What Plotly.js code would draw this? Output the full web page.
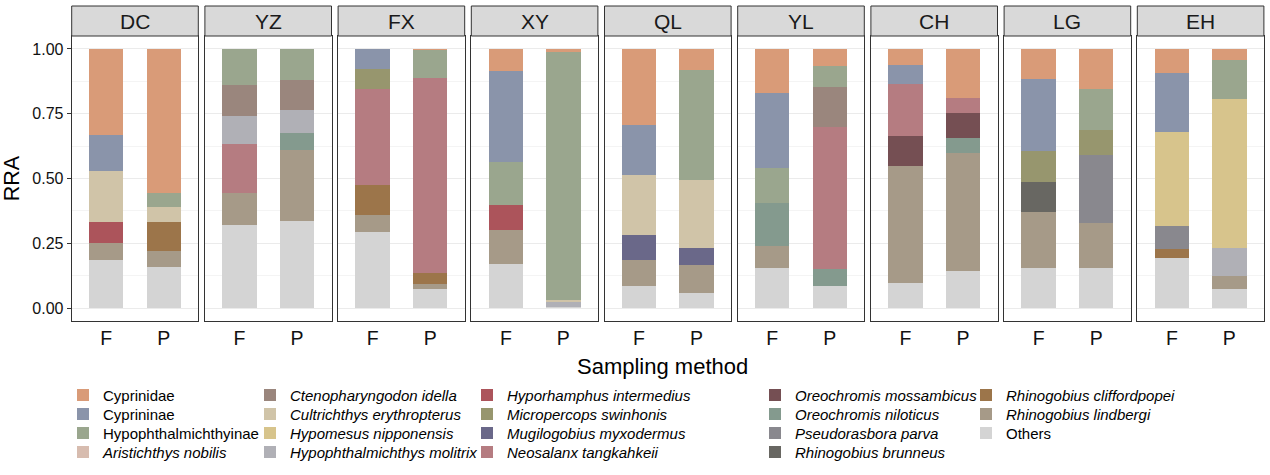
<!DOCTYPE html>
<html><head><meta charset="utf-8">
<script src="https://cdn.plot.ly/plotly-3.0.1.min.js"></script>
<style>html,body{margin:0;padding:0;background:#fff}</style>
</head><body><div id="chart" style="width:1270px;height:475px"></div>
<script>
// ---- data ----
const sites = ['DC','YZ','FX','XY','QL','YL','CH','LG','EH'];
const methods = ['F','P'];
// values per species, order: DC F, DC P, YZ F, YZ P, FX F, FX P, XY F, XY P, QL F, QL P, YL F, YL P, CH F, CH P, LG F, LG P, EH F, EH P
const cyprinidae      = [0.331,0.556, 0,0,       0,0.004,     0.085,0.010, 0.293,0.081, 0.169,0.064, 0.062,0.189, 0.116,0.156, 0.093,0.042];
const cyprininae      = [0.140,0,     0,0,       0.079,0,     0.353,0,     0.193,0,     0.290,0,     0.073,0,     0.279,0,     0.227,0];
const hypophthalmichthyinae = [0,0.054, 0.138,0.120, 0,0.108, 0.164,0.960, 0,0.423, 0.136,0.083, 0,0, 0,0.157, 0,0.152];
const aristichthys    = [0,0, 0,0, 0,0, 0,0, 0,0, 0,0, 0,0, 0,0, 0,0];
const ctenopharyngodon = [0,0, 0.119,0.117, 0,0, 0,0, 0,0, 0,0.154, 0,0, 0,0, 0,0];
const cultrichthys    = [0.196,0.058, 0,0, 0,0, 0,0.007, 0.232,0.264, 0,0, 0,0, 0,0, 0,0];
const hypomesus       = [0,0, 0,0, 0,0, 0,0, 0,0, 0,0, 0,0, 0,0, 0.363,0.574];
const molitrix        = [0,0, 0.110,0.086, 0,0, 0,0.020, 0,0, 0,0, 0,0, 0,0, 0,0.108];
const hyporhamphus    = [0.083,0, 0,0, 0,0, 0.096,0, 0,0, 0,0, 0,0, 0,0, 0,0];
const micropercops    = [0,0, 0,0, 0.075,0, 0,0, 0,0, 0,0, 0,0, 0.119,0.096, 0,0];
const mugilogobius    = [0,0, 0,0, 0,0, 0,0, 0.097,0.066, 0,0, 0,0, 0,0, 0,0];
const neosalanx       = [0,0, 0.189,0, 0.371,0.753, 0,0, 0,0, 0,0.548, 0.201,0.058, 0,0, 0,0];
const mossambicus     = [0,0, 0,0, 0,0, 0,0, 0,0, 0,0, 0.116,0.097, 0,0, 0,0];
const niloticus       = [0,0, 0,0.067, 0,0, 0,0, 0,0, 0.167,0.066, 0,0.059, 0,0, 0,0];
const parva           = [0,0, 0,0, 0,0, 0,0, 0,0, 0,0, 0,0, 0,0.263, 0.088,0];
const brunneus        = [0,0, 0,0, 0,0, 0,0, 0,0, 0,0, 0,0, 0.115,0, 0,0];
const cliffordpopei   = [0,0.112, 0,0, 0.116,0.042, 0,0, 0,0, 0,0, 0,0, 0,0, 0.035,0];
const lindbergi       = [0.065,0.060, 0.124,0.273, 0.066,0.020, 0.132,0, 0.100,0.108, 0.082,0, 0.451,0.454, 0.217,0.174, 0,0.051];
const others          = [0.185,0.160, 0.320,0.337, 0.293,0.073, 0.170,0.003, 0.085,0.058, 0.156,0.085, 0.097,0.143, 0.154,0.154, 0.194,0.073];

// legend order (column-major, 5 columns x 4 rows)
const speciesNames = ['Cyprinidae','Cyprininae','Hypophthalmichthyinae','Aristichthys nobilis',
  'Ctenopharyngodon idella','Cultrichthys erythropterus','Hypomesus nipponensis','Hypophthalmichthys molitrix',
  'Hyporhamphus intermedius','Micropercops swinhonis','Mugilogobius myxodermus','Neosalanx tangkahkeii',
  'Oreochromis mossambicus','Oreochromis niloticus','Pseudorasbora parva','Rhinogobius brunneus',
  'Rhinogobius cliffordpopei','Rhinogobius lindbergi','Others'];
const speciesValues = [cyprinidae,cyprininae,hypophthalmichthyinae,aristichthys,
  ctenopharyngodon,cultrichthys,hypomesus,molitrix,
  hyporhamphus,micropercops,mugilogobius,neosalanx,
  mossambicus,niloticus,parva,brunneus,
  cliffordpopei,lindbergi,others];
const italic = [false,false,false,true, true,true,true,true, true,true,true,true, true,true,true,true, true,true,false];
const colors = ['#D99B78','#8A94AA','#9AA68E','#D7BCAF',
  '#9A867D','#D0C4A8','#D7C48C','#B0B0B6',
  '#AC545B','#97966E','#6A6889','#B57C81',
  '#754F53','#849A8E','#89888E','#686762',
  '#9C754A','#A69A88','#D4D4D4'];

// ---- traces ----
const FONT = 'Liberation Sans, Arial, sans-serif';
const traces = [];
for (let k = speciesNames.length - 1; k >= 0; k--) {
  const nm = italic[k] ? '<i>' + speciesNames[k] + '</i>' : speciesNames[k];
  for (let s = 0; s < sites.length; s++) {
    const sfx = s === 0 ? '' : String(s + 1);
    traces.push({
      type: 'bar',
      x: methods,
      y: [speciesValues[k][2*s], speciesValues[k][2*s+1]],
      xaxis: 'x' + sfx, yaxis: 'y' + sfx,
      name: nm,
      width: 0.6,
      marker: {color: colors[k], line: {width: 0}},
      showlegend: s === 0,
      legend: 'legend' + (k + 2),
      hoverinfo: 'skip'
    });
  }
}

// ---- layout ----
const W = 1270, H = 475;
const panelLeft0 = 71.7, panelStep = 133.2, panelW = 126.6;
const panelTop = 36, panelBottom = 321, stripTop = 6;
const layout = {
  width: W, height: H,
  margin: {l: 0, r: 0, t: 0, b: 0},
  paper_bgcolor: '#fff', plot_bgcolor: '#fff',
  barmode: 'stack', bargap: 0, showlegend: true,
  font: {family: FONT, color: '#000'},
  shapes: [], annotations: []
};
for (let s = 0; s < sites.length; s++) {
  const sfx = s === 0 ? '' : String(s + 1);
  const x0 = panelLeft0 + s * panelStep;
  layout['xaxis' + sfx] = {
    domain: [x0 / W, (x0 + panelW) / W],
    anchor: 'y' + sfx,
    type: 'category', categoryorder: 'array', categoryarray: methods,
    range: [-0.6, 1.6],
    showline: true, mirror: true, linecolor: '#333', linewidth: 1,
    showgrid: false, zeroline: false, ticks: '',
    tickfont: {size: 19.5, color: '#111'}, fixedrange: true
  };
  layout['yaxis' + sfx] = {
    domain: [1 - panelBottom / H, 1 - panelTop / H],
    anchor: 'x' + sfx,
    range: [-0.05, 1.05],
    tick0: 0, dtick: 0.25, tickformat: '.2f',
    showticklabels: s === 0,
    ticks: s === 0 ? 'outside' : '', ticklen: 4, tickcolor: '#333', tickwidth: 1,
    tickfont: {size: 16, color: '#111'},
    showgrid: true, gridcolor: '#EBEBEB', gridwidth: 1,
    minor: {dtick: 0.125, tick0: 0, showgrid: true, gridcolor: '#F4F4F4', gridwidth: 1},
    showline: true, mirror: true, linecolor: '#333', linewidth: 1,
    zeroline: false, fixedrange: true
  };
  layout.shapes.push({
    type: 'rect', xref: 'x' + sfx + ' domain', yref: 'paper',
    x0: 0, x1: 1, y0: 1 - panelTop / H, y1: 1 - stripTop / H,
    fillcolor: '#D9D9D9', line: {color: '#333', width: 1}, layer: 'above'
  });
  layout.annotations.push({
    xref: 'x' + sfx + ' domain', yref: 'paper', x: 0.5, y: 1 - (stripTop + panelTop) / 2 / H,
    text: sites[s], showarrow: false, xanchor: 'center', yanchor: 'middle',
    font: {size: 21, color: '#1A1A1A'}
  });
}
layout.annotations.push({
  xref: 'paper', yref: 'paper', x: 11.5 / W, y: 1 - 178.7 / H,
  text: 'RRA', textangle: -90, showarrow: false, xanchor: 'center', yanchor: 'middle',
  font: {size: 21.5, color: '#000'}
});
layout.annotations.push({
  xref: 'paper', yref: 'paper', x: 662 / W, y: 1 - 366 / H,
  text: 'Sampling method', showarrow: false, xanchor: 'center', yanchor: 'middle',
  font: {size: 22, color: '#000'}
});
// one legend box per entry, arranged column-major in 5 columns x 4 rows
const legendTextX = [103, 290, 507, 795, 1006];
const legendRowY = [395.3, 414.3, 433.3, 452.3];
layout.legend = {visible: false};
for (let k = 0; k < speciesNames.length; k++) {
  const c = Math.floor(k / 4), r = k % 4;
  layout['legend' + (k + 2)] = {
    x: (legendTextX[c] - 40) / W, xanchor: 'left',
    y: 1 - legendRowY[r] / H, yanchor: 'middle',
    orientation: 'v',
    font: {size: 15, color: '#000', family: FONT},
    bgcolor: 'rgba(0,0,0,0)', borderwidth: 0,
    itemclick: false, itemdoubleclick: false
  };
}
Plotly.newPlot('chart', traces, layout, {displayModeBar: false, staticPlot: true});
</script>
</body></html>
